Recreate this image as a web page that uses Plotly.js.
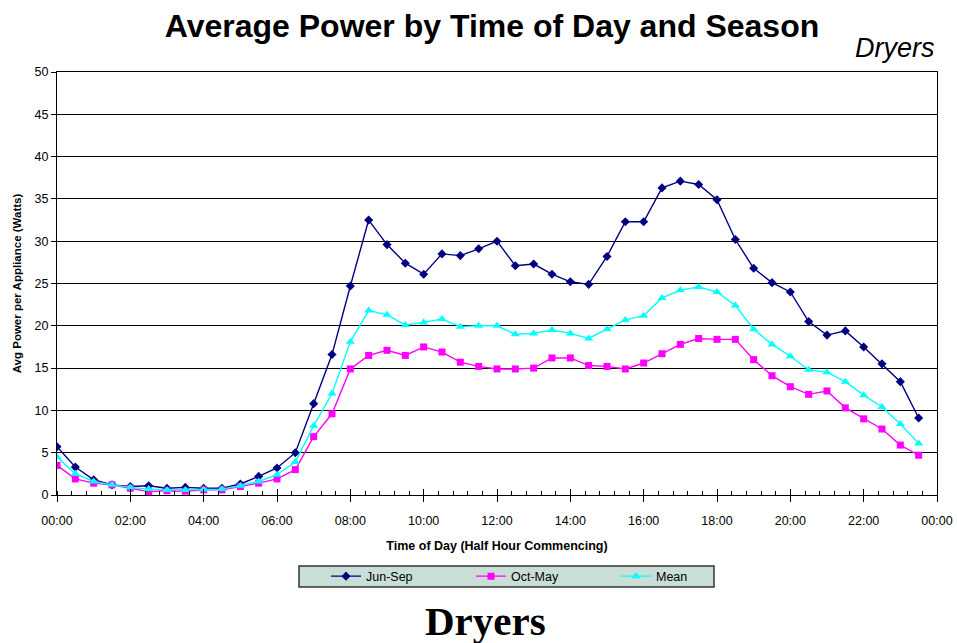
<!DOCTYPE html>
<html>
<head>
<meta charset="utf-8">
<script src="https://cdn.plot.ly/plotly-3.0.1.min.js"></script>
<style>
html,body{margin:0;padding:0;background:#fff;}
#chart{width:957px;height:643px;}
</style>
</head>
<body>
<div id="chart"></div>
<script>
// Half-hour periods (time commencing)
const times = ["00:00","00:30","01:00","01:30","02:00","02:30","03:00","03:30","04:00","04:30","05:00","05:30",
  "06:00","06:30","07:00","07:30","08:00","08:30","09:00","09:30","10:00","10:30","11:00","11:30",
  "12:00","12:30","13:00","13:30","14:00","14:30","15:00","15:30","16:00","16:30","17:00","17:30",
  "18:00","18:30","19:00","19:30","20:00","20:30","21:00","21:30","22:00","22:30","23:00","23:30"];

const junSep = [5.7,3.3,1.8,1.2,1.0,1.1,0.8,0.9,0.8,0.8,1.3,2.2,
  3.2,5.0,10.8,16.6,24.7,32.5,29.6,27.4,26.1,28.5,28.3,29.1,
  30.0,27.1,27.3,26.1,25.2,24.9,28.2,32.3,32.3,36.3,37.1,36.7,
  34.9,30.2,26.8,25.1,24.0,20.5,18.9,19.4,17.5,15.5,13.4,9.1];

const octMay = [3.5,1.9,1.4,1.2,0.8,0.4,0.5,0.45,0.6,0.6,1.0,1.4,
  1.9,3.0,6.9,9.6,14.9,16.5,17.1,16.5,17.5,16.9,15.7,15.2,
  14.9,14.9,15.0,16.2,16.2,15.3,15.2,14.9,15.6,16.7,17.8,18.5,
  18.4,18.4,16.0,14.1,12.8,11.9,12.3,10.3,9.0,7.8,5.9,4.7];

const meanVals = [4.5,2.5,1.6,1.2,0.9,0.7,0.6,0.6,0.65,0.7,1.1,1.6,
  2.4,3.9,8.2,12.0,18.1,21.8,21.3,20.1,20.4,20.8,19.9,20.0,
  20.0,19.0,19.1,19.5,19.1,18.5,19.6,20.7,21.2,23.3,24.2,24.6,
  24.0,22.4,19.6,17.8,16.4,14.8,14.5,13.4,11.8,10.4,8.4,6.1];

const tickLabels = ["00:00","02:00","04:00","06:00","08:00","10:00","12:00","14:00","16:00","18:00","20:00","22:00","00:00"];
const tickHours = [0,2,4,6,8,10,12,14,16,18,20,22,24];

const seriesNames = ["Jun-Sep","Oct-May","Mean"];

// hours from time labels
const xs = times.map(t => { const p = t.split(":"); return (+p[0]) + (+p[1]) / 60; });

const traces = [
  {x: xs, y: junSep, name: seriesNames[0], type: "scatter", mode: "lines+markers",
   line: {color: "#000080", width: 1.4},
   marker: {symbol: "diamond", size: 7, color: "#000080"}},
  {x: xs, y: octMay, name: seriesNames[1], type: "scatter", mode: "lines+markers",
   line: {color: "#ff00ff", width: 1.4},
   marker: {symbol: "square", size: 7, color: "#ff00ff"}},
  {x: xs, y: meanVals, name: seriesNames[2], type: "scatter", mode: "lines+markers",
   line: {color: "#00ffff", width: 1.4},
   marker: {symbol: "triangle-up", size: 8, color: "#00ffff"}},
  {x: [], y: [], xaxis: "x2", yaxis: "y", showlegend: false, hoverinfo: "skip", type: "scatter", mode: "lines"}
];

const L = 57, R = 937, T = 72, B = 495;
const pw = R - L, ph = B - T;
const px = v => (v - L) / pw;
const py = v => (B - v) / ph;

const layout = {
  width: 957, height: 643,
  margin: {l: L, r: 957 - R, t: T, b: 643 - B, pad: 0},
  paper_bgcolor: "#ffffff",
  plot_bgcolor: "#ffffff",
  font: {family: "Liberation Sans, Arial, sans-serif", color: "#000000", size: 12},
  title: {
    text: "<b>Average Power by Time of Day and Season</b>",
    font: {family: "Liberation Sans, Arial, sans-serif", size: 32, color: "#000000"},
    xref: "container", x: 492 / 957, xanchor: "center",
    yref: "container", y: 1 - 26 / 643, yanchor: "middle"
  },
  xaxis: {
    range: [0, 24], fixedrange: true,
    tickmode: "array", tickvals: tickHours, ticktext: tickLabels,
    ticks: "outside", ticklen: 6, tickcolor: "#000000", tickwidth: 1,
    ticklabelstandoff: 8,
    tickfont: {size: 12.5, color: "#000000"},
    showline: true, linecolor: "#000000", linewidth: 1, mirror: true,
    showgrid: false, zeroline: false,
    minor: {dtick: 0.4, tick0: 0, ticks: "inside", ticklen: 4, tickcolor: "#000000", tickwidth: 1, showgrid: false},
    title: {text: "<b>Time of Day (Half Hour Commencing)</b>", font: {size: 12.5, color: "#000000"}, standoff: 14}
  },
  xaxis2: {
    range: [0, 24], overlaying: "x", anchor: "y", side: "bottom", fixedrange: true,
    tickmode: "array", tickvals: tickHours,
    ticks: "inside", ticklen: 6, tickcolor: "#000000", tickwidth: 1,
    showticklabels: false, showgrid: false, zeroline: false, showline: false
  },
  yaxis: {
    range: [0, 50], dtick: 5, tick0: 0, fixedrange: true,
    ticks: "outside", ticklen: 5, tickcolor: "#000000", tickwidth: 1,
    tickfont: {size: 12.5, color: "#000000"},
    showline: true, linecolor: "#000000", linewidth: 1, mirror: true,
    showgrid: true, gridcolor: "#000000", gridwidth: 1, zeroline: false,
    title: {text: "<b>Avg Power per Appliance (Watts)</b>", font: {size: 11.5, color: "#000000"}, standoff: 10}
  },
  showlegend: true,
  legend: {
    orientation: "h",
    x: px(326), xanchor: "left",
    y: py(576.5), yanchor: "middle",
    bgcolor: "rgba(0,0,0,0)", borderwidth: 0,
    entrywidth: 100, entrywidthmode: "pixels",
    font: {size: 12.5, color: "#000000"},
    traceorder: "normal"
  },
  shapes: [
    {type: "rect", xref: "paper", yref: "paper",
     x0: px(299), x1: px(714), y0: py(566), y1: py(587),
     fillcolor: "#c9ded7", line: {color: "#333333", width: 1.5}, layer: "below"}
  ],
  annotations: [
    {text: "<i>Dryers</i>", xref: "paper", yref: "paper", x: 1, xanchor: "right",
     y: py(48), yanchor: "middle", showarrow: false,
     font: {family: "Liberation Sans, Arial, sans-serif", size: 27, color: "#000000"}},
    {text: "<b>Dryers</b>", xref: "paper", yref: "paper", x: px(485.5), xanchor: "center",
     y: py(621), yanchor: "middle", showarrow: false,
     font: {family: "Liberation Serif, Times New Roman, serif", size: 41, color: "#000000"}}
  ],
  hovermode: false
};

Plotly.newPlot("chart", traces, layout, {displayModeBar: false, staticPlot: true});
</script>
</body>
</html>
